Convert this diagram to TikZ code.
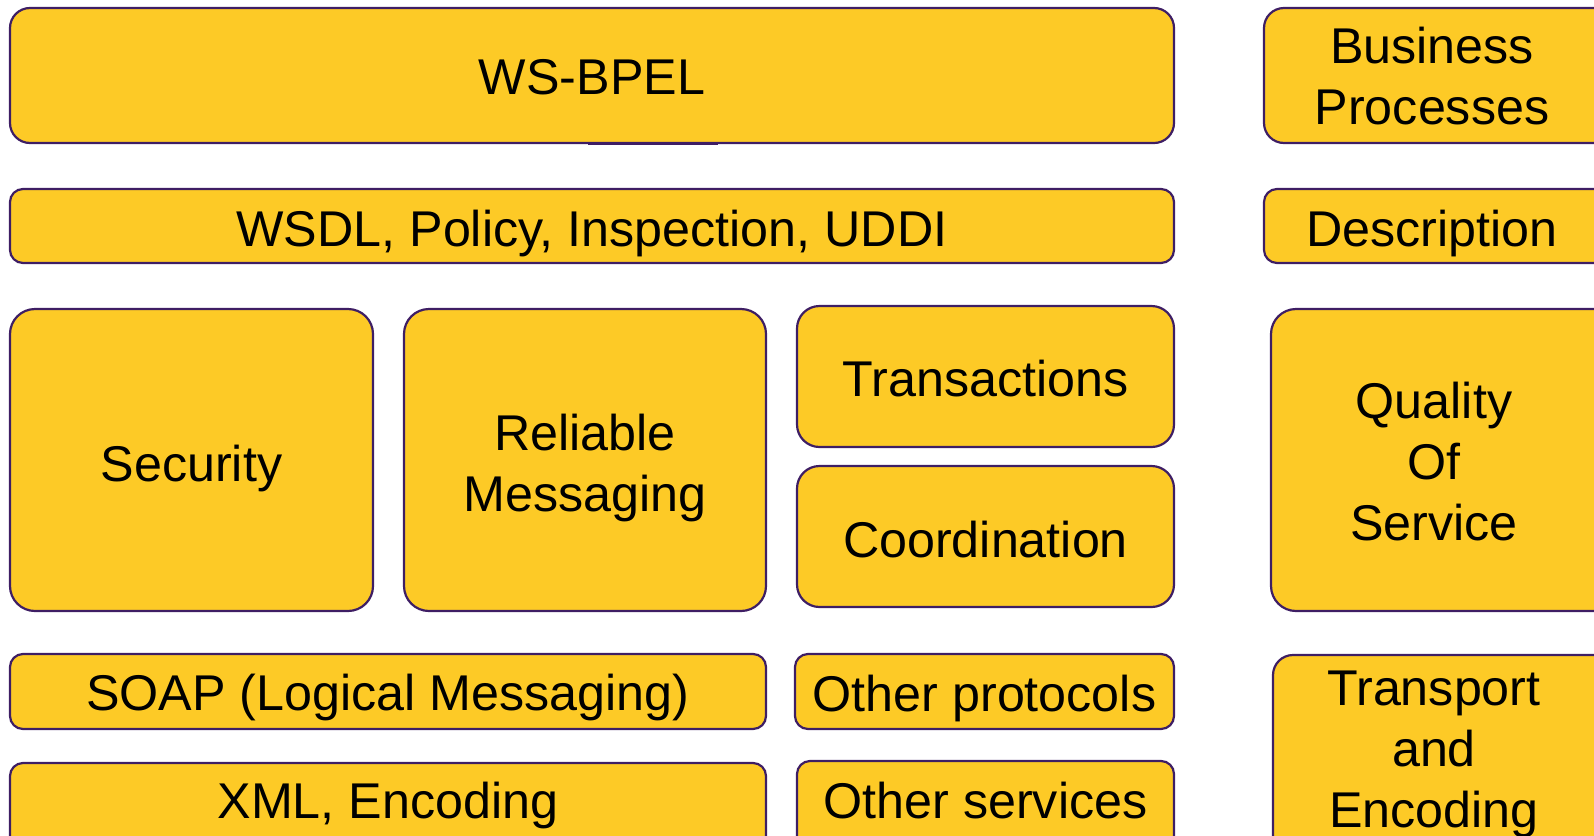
\documentclass[tikz,border=0pt]{standalone}
\usepackage{fontspec}
\setmainfont{Liberation Sans}
\usetikzlibrary{fit}

\definecolor{boxfill}{RGB}{253,202,38}
\definecolor{boxline}{RGB}{62,30,100}

\tikzset{
  layer/.style={draw=boxline, fill=boxfill, line width=1.25pt, inner sep=0pt, rounded corners=#1},
  layer/.default=4mm,
  lbl/.style={anchor=base, align=center, inner sep=0pt, font=\fontsize{28.6}{34.7}\selectfont},
}

\begin{document}
\begin{tikzpicture}[x=0.02cm, y=-0.02cm]
\useasboundingbox (0,0) rectangle (1594,835);
\clip (0,0) rectangle (1594,835);

% top rows
\node[layer=4mm, fit={(10,8) (1174,143)}] (bpel) {};
\node[lbl] (bpeltxt) at (592,94) {WS-BPEL};
\coordinate (seamL) at (588,144);
\coordinate (seamR) at (718,144);
\draw[boxline, line width=1.2pt] (seamL) -- (seamR);

\node[layer=4mm, fit={(1264,8) (1620,143)}] (bp) {};
\node[lbl] (bptxt) at (1432,124) {Business\\Processes};

\node[layer=2.6mm, fit={(10,189) (1174,263)}] (wsdl) {};
\node[lbl] (wsdltxt) at (592,246) {WSDL, Policy, Inspection, UDDI};

\node[layer=2.6mm, fit={(1264,189) (1620,263)}] (desc) {};
\node[lbl] (desctxt) at (1432,246) {Description};

% middle row
\node[layer=5mm, fit={(10,309) (373,611)}] (sec) {};
\node[lbl] (sectxt) at (191.5,481) {Security};

\node[layer=5mm, fit={(404,309) (766,611)}] (rm) {};
\node[lbl] (rmtxt) at (585,511) {Reliable\\Messaging};

\node[layer=4.5mm, fit={(797,306) (1174,447)}] (tx) {};
\node[lbl] (txtxt) at (985.5,396) {Transactions};

\node[layer=4.5mm, fit={(797,466) (1174,607)}] (coord) {};
\node[lbl] (coordtxt) at (985.5,557) {Coordination};

\node[layer=5mm, fit={(1271,309) (1620,611)}] (qos) {};
\node[lbl] (qostxt) at (1434,540) {Quality\\Of\\Service};

% bottom rows
\node[layer=2.6mm, fit={(10,654) (766,729)}] (soap) {};
\node[lbl] (soaptxt) at (388,710) {SOAP (Logical Messaging)};

\node[layer=2.6mm, fit={(795,654) (1174,729)}] (op) {};
\node[lbl] (optxt) at (984.5,711) {Other protocols};

\node[layer=2.6mm, fit={(10,763) (766,880)}] (xml) {};
\node[lbl] (xmltxt) at (388,818) {XML, Encoding};

\node[layer=2.6mm, fit={(797,761) (1174,880)}] (os) {};
\node[lbl] (ostxt) at (985.5,818) {Other services};

\node[layer=4mm, fit={(1273,655) (1620,880)}] (te) {};
\node[lbl] (tetxt) at (1434,827) {Transport\\and\\Encoding};
\end{tikzpicture}
\end{document}
